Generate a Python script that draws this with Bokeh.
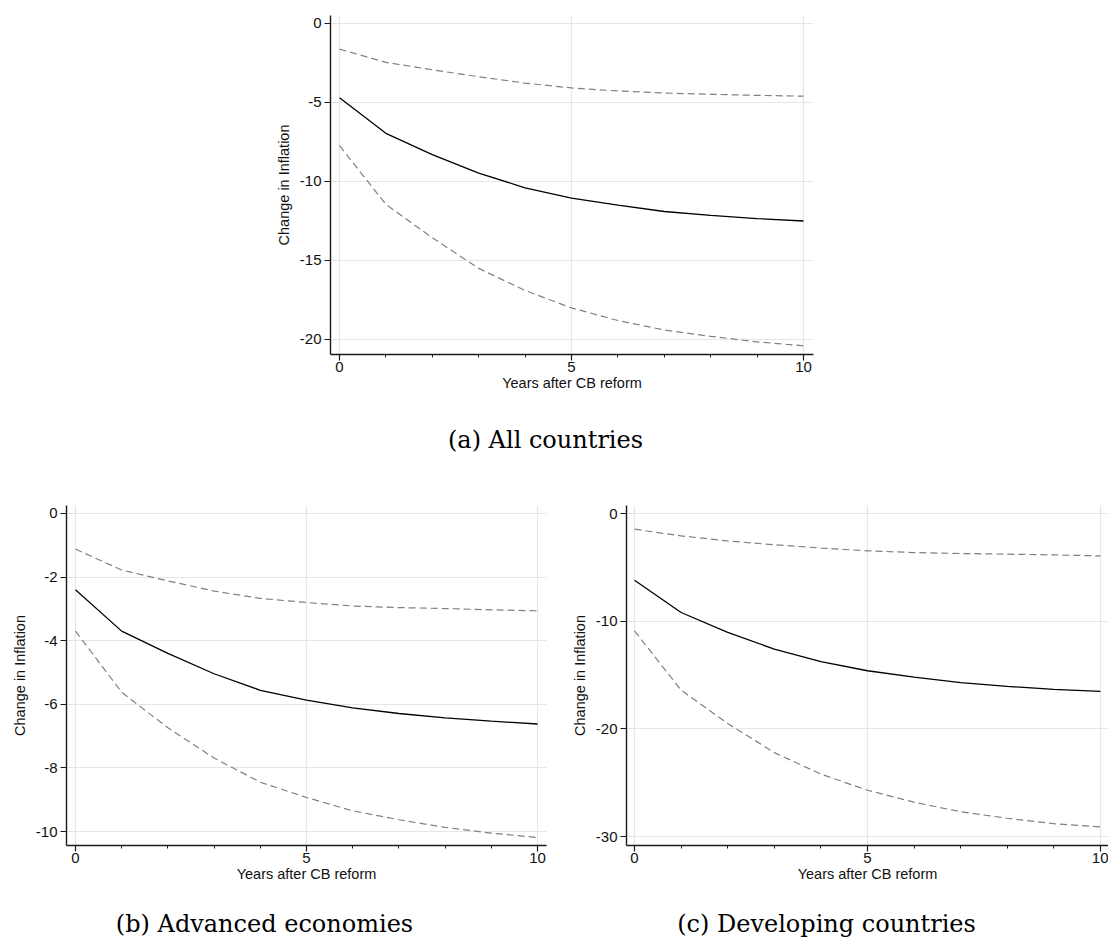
from bokeh.plotting import figure
from bokeh.layouts import column, row
from bokeh.models import Spacer, FixedTicker, Range1d, ColumnDataSource
from bokeh.embed import file_html
from bokeh.resources import INLINE
from bokeh.core.properties import value

# ---------------- data ----------------
years = [0, 1, 2, 3, 4, 5, 6, 7, 8, 9, 10]

all_est = [-4.7, -6.95, -8.3, -9.47, -10.4, -11.05, -11.5, -11.9, -12.15, -12.35, -12.5]
all_upper = [-1.62, -2.46, -2.93, -3.37, -3.77, -4.08, -4.27, -4.4, -4.48, -4.55, -4.6]
all_lower = [-7.73, -11.45, -13.56, -15.5, -16.9, -18.0, -18.8, -19.4, -19.8, -20.15, -20.4]

adv_est = [-2.4, -3.7, -4.4, -5.04, -5.56, -5.87, -6.11, -6.29, -6.43, -6.53, -6.62]
adv_upper = [-1.12, -1.78, -2.12, -2.44, -2.67, -2.8, -2.91, -2.96, -2.99, -3.03, -3.06]
adv_lower = [-3.7, -5.62, -6.74, -7.69, -8.45, -8.93, -9.35, -9.63, -9.87, -10.05, -10.19]

dev_est = [-6.19, -9.19, -11.04, -12.59, -13.76, -14.6, -15.2, -15.7, -16.05, -16.33, -16.52]
dev_upper = [-1.45, -2.07, -2.54, -2.9, -3.2, -3.46, -3.62, -3.71, -3.77, -3.84, -3.93]
dev_lower = [-10.9, -16.4, -19.5, -22.2, -24.2, -25.7, -26.8, -27.7, -28.3, -28.8, -29.1]

x_ticks = [0, 5, 10]
x_minor = [1, 2, 3, 4, 6, 7, 8, 9]
all_yticks = [0, -5, -10, -15, -20]
adv_yticks = [0, -2, -4, -6, -8, -10]
dev_yticks = [0, -10, -20, -30]

x_title = "Years after CB reform"
y_title = "Change in Inflation"
captions_top = ["(a) All countries"]
captions_bottom = ["(b) Advanced economies", "(c) Developing countries"]

SANS = "Liberation Sans"
SERIF = "DejaVu Serif"
AX = "#1a1a1a"


def panel(est, upper, lower, yticks, width, height, mb_left, mb_right, mb_top, mb_bottom,
          xr, yr):
    p = figure(width=width, height=height, x_range=Range1d(*xr), y_range=Range1d(*yr),
               output_backend="svg", toolbar_location=None,
               min_border_left=mb_left, min_border_right=mb_right,
               min_border_top=mb_top, min_border_bottom=mb_bottom)
    p.outline_line_color = None
    p.background_fill_color = "white"
    p.border_fill_color = "white"

    p.xaxis.ticker = FixedTicker(ticks=x_ticks, minor_ticks=x_minor)
    p.yaxis.ticker = FixedTicker(ticks=yticks, minor_ticks=[])
    p.yaxis.major_label_overrides = {t: str(t) for t in yticks}
    p.xaxis.major_label_overrides = {t: str(t) for t in x_ticks}
    for ax in (p.xaxis, p.yaxis):
        ax.axis_line_color = AX
        ax.axis_line_width = 1.4
        ax.major_tick_line_color = AX
        ax.major_tick_line_width = 1.2
        ax.major_tick_out = 6
        ax.major_tick_in = 0
        ax.minor_tick_line_color = AX
        ax.minor_tick_line_width = 1
        ax.minor_tick_out = 3
        ax.minor_tick_in = 0
        ax.major_label_text_font = SANS
        ax.major_label_text_font_size = "15px"
        ax.major_label_text_color = "#111111"
        ax.axis_label_text_font = SANS
        ax.axis_label_text_font_size = "14.5px"
        ax.axis_label_text_font_style = "normal"
        ax.axis_label_text_color = "#111111"
    p.xaxis.axis_label = x_title
    p.yaxis.axis_label = y_title
    p.xaxis.major_label_standoff = 1
    p.xaxis.axis_label_standoff = 0
    p.yaxis.major_label_standoff = 3
    p.yaxis.axis_label_standoff = 5
    p.yaxis.major_label_orientation = "horizontal"

    p.xgrid.grid_line_color = "#e6e6e6"
    p.ygrid.grid_line_color = "#e6e6e6"
    p.xgrid.grid_line_width = 1.2
    p.ygrid.grid_line_width = 1.2

    src = ColumnDataSource(dict(x=years, est=est, up=upper, lo=lower))
    p.line("x", "up", source=src, line_color="#808080", line_width=1.2, line_dash="7 4")
    p.line("x", "lo", source=src, line_color="#808080", line_width=1.2, line_dash="7 4")
    p.line("x", "est", source=src, line_color="#000000", line_width=1.3)
    return p


fig_a = panel(all_est, all_upper, all_lower, all_yticks,
              width=553, height=391, mb_left=60, mb_right=10, mb_top=7, mb_bottom=45,
              xr=(-0.194, 10.215), yr=(-20.95, 0.506))
fig_b = panel(adv_est, adv_upper, adv_lower, adv_yticks,
              width=554, height=411, mb_left=55, mb_right=16, mb_top=26, mb_bottom=45,
              xr=(-0.194, 10.194), yr=(-10.44, 0.25))
fig_c = panel(dev_est, dev_upper, dev_lower, dev_yticks,
              width=546, height=411, mb_left=64, mb_right=0, mb_top=26, mb_bottom=45,
              xr=(-0.172, 10.172), yr=(-30.83, 0.75))


def caption_fig(width, height, xs, ys, texts):
    f = figure(width=width, height=height, x_range=Range1d(0, width), y_range=Range1d(0, height),
               output_backend="svg", toolbar_location=None, min_border=0,
               x_axis_location=None, y_axis_location=None)
    f.grid.visible = False
    f.outline_line_color = None
    src = ColumnDataSource(dict(x=xs, y=ys, t=texts))
    f.text(x="x", y="y", text="t", source=src, text_font=value(SERIF), text_font_size="24px",
           text_align="center", text_baseline="alphabetic", text_color="#000000")
    return f


cap_a = caption_fig(1108, 80, [545], [40], captions_top)
cap_bc = caption_fig(1108, 50, [264, 826], [17, 17], captions_bottom)

layout = column(Spacer(width=1108, height=8),
                row(Spacer(width=270, height=391), fig_a),
                cap_a,
                row(Spacer(width=8, height=411), fig_b, fig_c),
                cap_bc)

open("out.html", "w").write(file_html(layout, INLINE))
